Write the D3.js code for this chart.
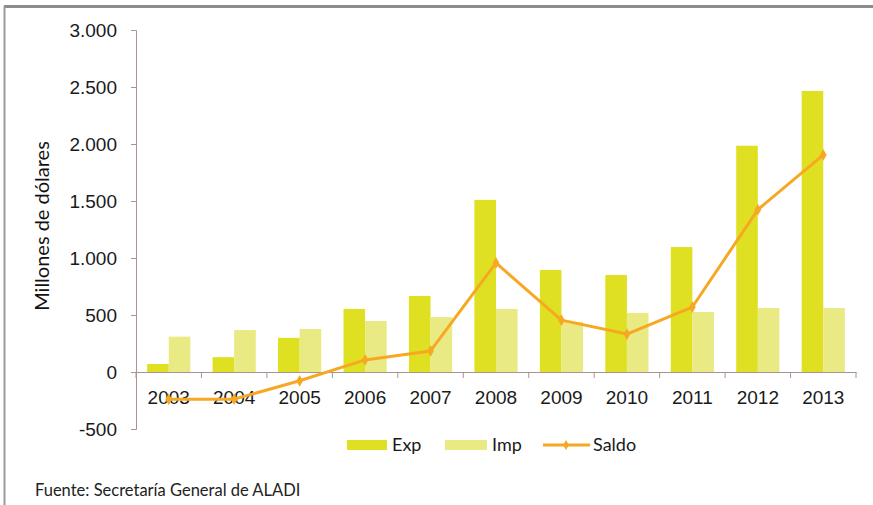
<!DOCTYPE html>
<html>
<head>
<meta charset="utf-8">
<script src="https://cdn.jsdelivr.net/npm/d3@7"></script>
<style>
  body { margin: 0; background: #fff; }
  svg { font-family: Lato, "Open Sans", sans-serif; }
</style>
</head>
<body>
<div class="grafico"></div>
<script>
// Datos (millones de dólares)
const years = ["2003","2004","2005","2006","2007","2008","2009","2010","2011","2012","2013"];
const exp   = [70, 130, 300, 553, 667, 1510, 895, 851, 1096, 1985, 2465];
const imp   = [310, 368, 377, 447, 482, 553, 440, 518, 526, 561, 561];
const saldo = [-240, -238, -77, 106, 185, 957, 455, 333, 570, 1424, 1904];
const yTicks = [-500, 0, 500, 1000, 1500, 2000, 2500, 3000];

const width = 873, height = 505;
const colExp = "#dfe021", colImp = "#e9ea84", colSaldo = "#f7a823";

const svg = d3.select(".grafico").append("svg")
    .attr("width", width)
    .attr("height", height);

// marco
svg.append("line").attr("x1", 4).attr("x2", width).attr("y1", 6.5).attr("y2", 6.5)
    .attr("stroke", "#8c8c8c").attr("stroke-width", 3);
svg.append("line").attr("x1", 4.5).attr("x2", 4.5).attr("y1", 6).attr("y2", height)
    .attr("stroke", "#9a9a9a").attr("stroke-width", 2);

const x = d3.scaleBand().domain(years).range([136, 856]);
const y = d3.scaleLinear().domain([-500, 3000]).range([429, 30]);

const inner = x.bandwidth() * 0.66;
const barW = inner / 2;

// eje Y
const yAxis = svg.append("g")
    .attr("transform", "translate(136,0)")
    .call(d3.axisLeft(y).tickValues(yTicks).tickSize(5).tickPadding(14)
        .tickFormat(d => d3.format(",")(Math.abs(d)).replace(/,/g, ".").replace(/^/, d < 0 ? "-" : "")));
yAxis.select(".domain").attr("stroke", "#a8958f");
yAxis.selectAll(".tick line").attr("stroke", "#a8958f");
yAxis.selectAll("text").attr("font-size", 19).attr("fill", "#1a1a1a");

// barras
const g = svg.append("g");
g.selectAll(".exp").data(years).join("rect")
    .attr("class", "exp")
    .attr("x", d => x(d) + (x.bandwidth() - inner) / 2)
    .attr("width", barW)
    .attr("y", (d, i) => y(exp[i]))
    .attr("height", (d, i) => y(0) - y(exp[i]))
    .attr("fill", colExp);
g.selectAll(".imp").data(years).join("rect")
    .attr("class", "imp")
    .attr("x", d => x(d) + (x.bandwidth() - inner) / 2 + barW)
    .attr("width", barW)
    .attr("y", (d, i) => y(imp[i]))
    .attr("height", (d, i) => y(0) - y(imp[i]))
    .attr("fill", colImp);

// eje X en cero
const xAxis = svg.append("g")
    .attr("transform", `translate(0,${y(0)})`)
    .call(d3.axisBottom(x).tickSize(0).tickPadding(19));
xAxis.select(".domain").attr("stroke", "#a8958f");
xAxis.selectAll("text").attr("font-size", 19).attr("fill", "#1a1a1a");
svg.append("g").selectAll("line").data(years.concat(["end"])).join("line")
    .attr("x1", (d, i) => i < years.length ? x(d) : x.range()[1])
    .attr("x2", (d, i) => i < years.length ? x(d) : x.range()[1])
    .attr("y1", y(0)).attr("y2", y(0) + 6)
    .attr("stroke", "#a8958f");

// línea saldo
const cx = d => x(d) + x.bandwidth() / 2;
const line = d3.line().x(d => cx(d)).y((d, i) => y(saldo[i]));
svg.append("path").datum(years)
    .attr("d", line)
    .attr("fill", "none")
    .attr("stroke", colSaldo)
    .attr("stroke-width", 3)
    .attr("stroke-linejoin", "round");
svg.append("g").selectAll("path").data(years).join("path")
    .attr("d", d3.symbol(d3.symbolDiamond, 40))
    .attr("transform", (d, i) => `translate(${cx(d)},${y(saldo[i])})`)
    .attr("fill", colSaldo);

// título eje
svg.append("text")
    .attr("transform", "translate(49,226) rotate(-90)")
    .attr("text-anchor", "middle")
    .attr("font-size", 20)
    .attr("fill", "#111")
    .text("Millones de dólares");

// leyenda
const leg = svg.append("g").attr("font-size", 18).attr("fill", "#1a1a1a");
leg.append("rect").attr("x", 347).attr("y", 440).attr("width", 40).attr("height", 10).attr("fill", colExp);
leg.append("text").attr("x", 392).attr("y", 451).text("Exp");
leg.append("rect").attr("x", 445).attr("y", 440).attr("width", 42).attr("height", 10).attr("fill", colImp);
leg.append("text").attr("x", 492).attr("y", 451).text("Imp");
leg.append("line").attr("x1", 543).attr("x2", 590).attr("y1", 445).attr("y2", 445)
    .attr("stroke", colSaldo).attr("stroke-width", 3);
leg.append("path").attr("d", d3.symbol(d3.symbolDiamond, 30))
    .attr("transform", "translate(566,445)").attr("fill", colSaldo);
leg.append("text").attr("x", 593).attr("y", 451).text("Saldo");

// fuente
svg.append("text")
    .attr("x", 35).attr("y", 496)
    .attr("font-size", 16.5)
    .attr("fill", "#222")
    .attr("font-family", "'Liberation Sans Narrow', Lato, sans-serif")
    .text("Fuente: Secretaría General de ALADI");
</script>
</body>
</html>
